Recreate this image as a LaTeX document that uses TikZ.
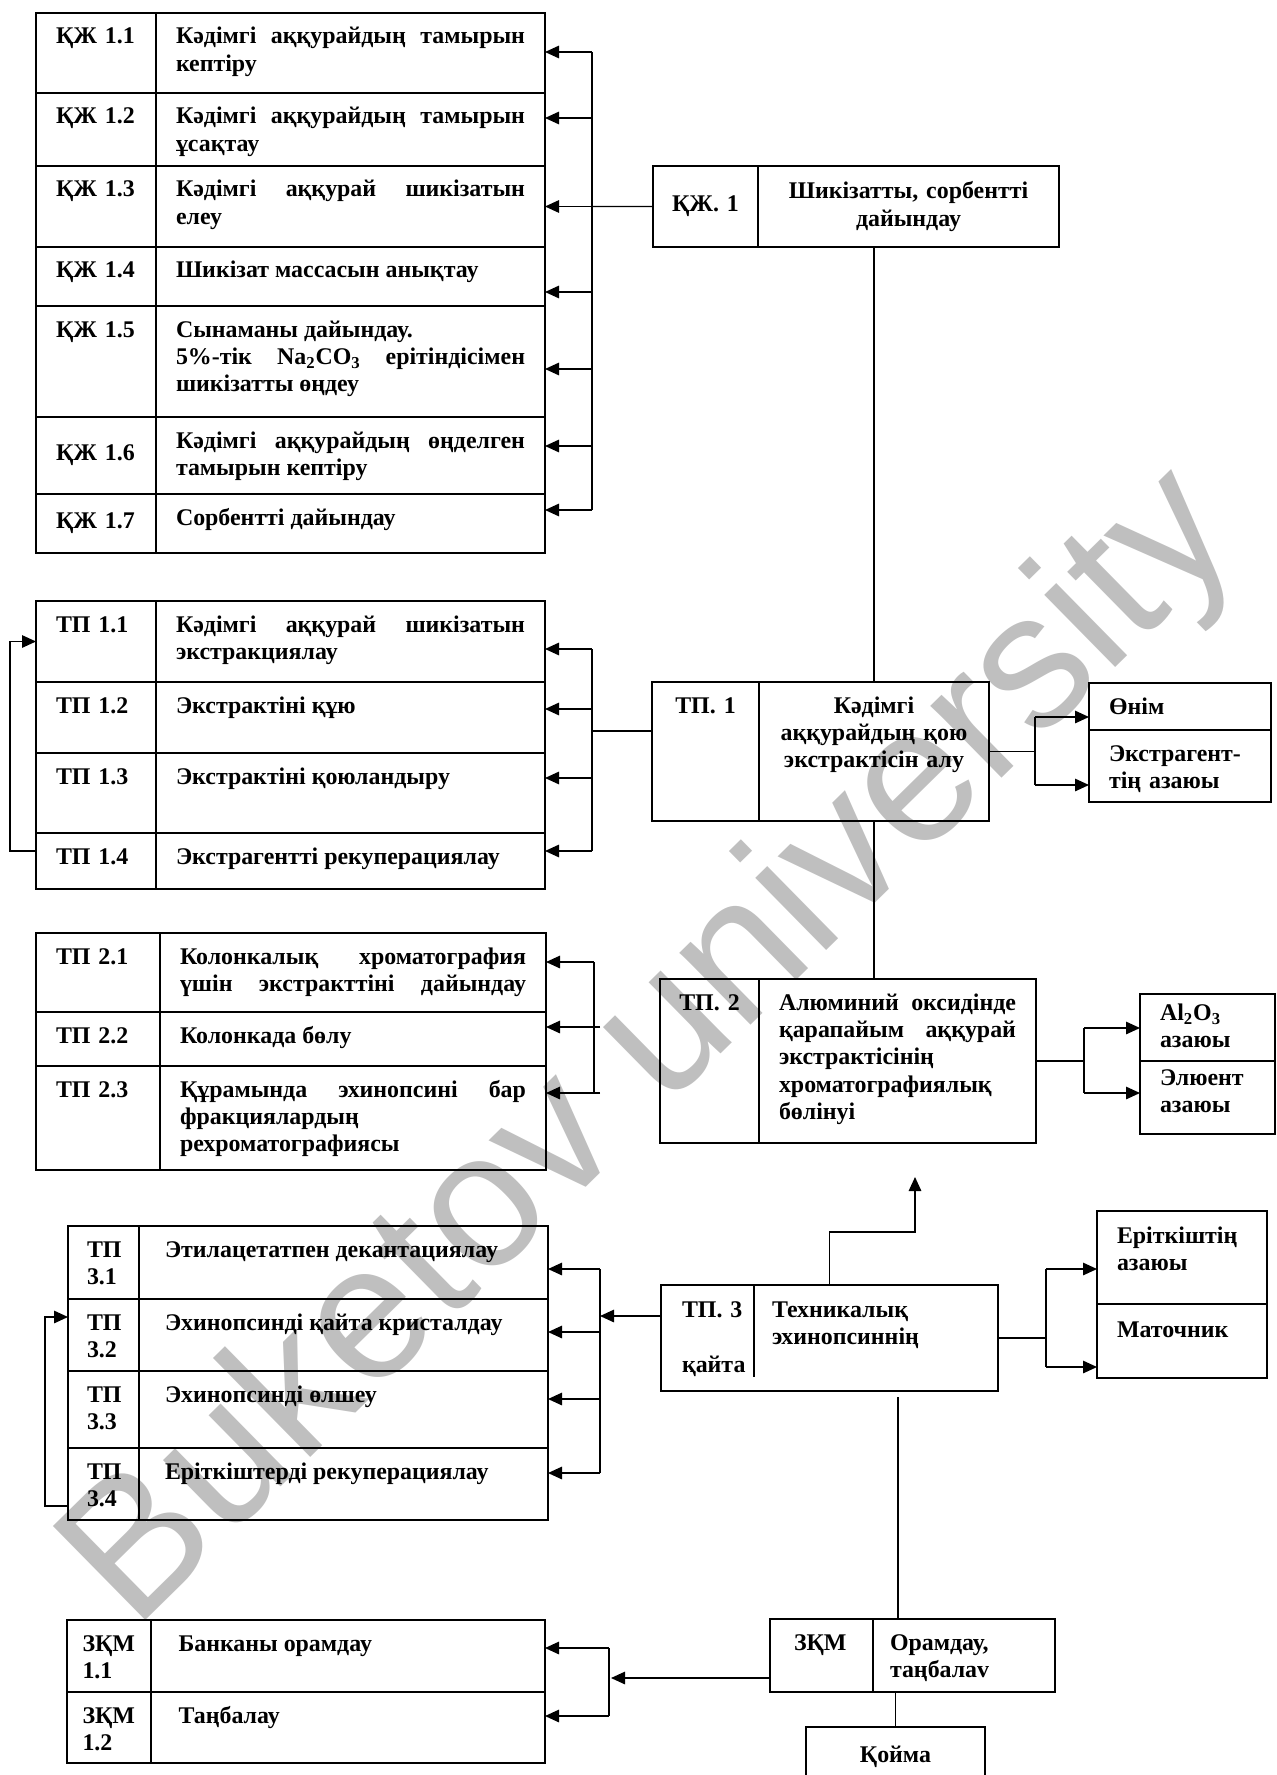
\documentclass[tikz,border=0pt]{standalone}
\usepackage{fontspec}
\setmainfont{Liberation Serif}
\newfontfamily\wmfont{Liberation Sans}
\usetikzlibrary{arrows.meta}
\hyphenpenalty=10000
\exhyphenpenalty=10000
\begin{document}
\begin{tikzpicture}[x=0.2mm, y=-0.2mm, thick,
    font=\bfseries\fontsize{13.6}{15.6}\selectfont,
    cell/.style={draw, rectangle, anchor=north west, inner xsep=4mm, inner ysep=0pt, outer sep=0pt},
    codecell/.style={cell, align=left, text width=16mm},
    textcell/.style={cell, align=justify, text width=69.8mm},
    hangtop/.style={text height=6.2mm, text depth=#1},
    arr/.style={-{Triangle[length=2.8mm, width=2.5mm]}},
    wm/.style={text=black!25, font=\wmfont\fontsize{109}{109}\selectfont, rotate=44.5}]
  \useasboundingbox (0,0) rectangle (1276,1775);
  \node[wm] (mark) at (654,1051) {Buketov university};

  \node[codecell, hangtop=9.8mm] (kc1) at (36,13) {ҚЖ 1.1};
  \node[textcell, hangtop=9.8mm] (k1) at (156,13) {Кәдімгі аққурайдың тамырын\linebreak кептіру};
  \node[codecell, hangtop=8.4mm] (kc2) at (36,93) {ҚЖ 1.2};
  \node[textcell, hangtop=8.4mm] (k2) at (156,93) {Кәдімгі аққурайдың тамырын\linebreak ұсақтау};
  \node[codecell, hangtop=10mm] (kc3) at (36,166) {ҚЖ 1.3};
  \node[textcell, hangtop=10mm] (k3) at (156,166) {Кәдімгі аққурай шикізатын\linebreak елеу};
  \node[codecell, hangtop=5.6mm] (kc4) at (36,247) {ҚЖ 1.4};
  \node[textcell, hangtop=5.6mm] (k4) at (156,247) {Шикізат массасын анықтау};
  \node[codecell, hangtop=16mm] (kc5) at (36,306) {ҚЖ 1.5};
  \node[textcell, hangtop=16mm] (k5) at (156,306) {Сынаманы дайындау.\\ 5\%-тік Na\textsubscript{2}CO\textsubscript{3} ерітіндісімен\linebreak шикізатты өңдеу};
  \node[codecell, minimum height=15.4mm] (kc6) at (36,417) {ҚЖ 1.6};
  \node[textcell, hangtop=9.2mm] (k6) at (156,417) {Кәдімгі аққурайдың өңделген\linebreak тамырын кептіру};
  \node[codecell, minimum height=11.8mm] (kc7) at (36,494) {ҚЖ 1.7};
  \node[textcell, hangtop=5.6mm] (k7) at (156,494) {Сорбентті дайындау};

  \node[cell, text width=17mm, inner xsep=2mm, align=center, minimum height=16.2mm] (Kc) at (653,166) {ҚЖ. 1};
  \node[cell, text width=52.2mm, align=center, minimum height=16.2mm] (K) at (758,166) {Шикізатты, сорбентті\\ дайындау};

  \node[codecell, hangtop=10mm] (ac1) at (36,601) {ТП 1.1};
  \node[textcell, hangtop=10mm] (a1) at (156,601) {Кәдімгі аққурай шикізатын\linebreak экстракциялау};
  \node[codecell, hangtop=8mm] (ac2) at (36,682) {ТП 1.2};
  \node[textcell, hangtop=8mm] (a2) at (156,682) {Экстрактіні құю};
  \node[codecell, hangtop=9.8mm] (ac3) at (36,753) {ТП 1.3};
  \node[textcell, hangtop=9.8mm] (a3) at (156,753) {Экстрактіні қоюландыру};
  \node[codecell, hangtop=5mm] (ac4) at (36,833) {ТП 1.4};
  \node[textcell, hangtop=5mm] (a4) at (156,833) {Экстрагентті рекуперациялау};

  \node[cell, text width=17.4mm, inner xsep=2mm, align=center, hangtop=21.6mm] (Ac) at (652,682) {ТП. 1};
  \node[cell, text width=43mm, inner xsep=1.5mm, align=center, hangtop=21.6mm] (A) at (759,682) {Кәдімгі\\ аққурайдың қою\\ экстрактісін алу};
  \node[cell, text width=28.4mm, align=left, hangtop=3.2mm] (o1) at (1089,683) {Өнім};
  \node[cell, text width=28.4mm, align=left, hangtop=8.2mm] (o2) at (1089,730) {Экстрагент-\\тің азаюы};

  \node[codecell, text width=16.8mm, hangtop=9.6mm] (bc1) at (36,933) {ТП 2.1};
  \node[textcell, text width=69.2mm, hangtop=9.6mm] (b1) at (160,933) {Колонкалық хроматография\linebreak үшін\hfill экстракттіні\hfill дайындау};
  \node[codecell, text width=16.8mm, hangtop=4.6mm] (bc2) at (36,1012) {ТП 2.2};
  \node[textcell, text width=69.2mm, hangtop=4.6mm] (b2) at (160,1012) {Колонкада бөлу};
  \node[codecell, text width=16.8mm, hangtop=14.6mm] (bc3) at (36,1066) {ТП 2.3};
  \node[textcell, text width=69.2mm, hangtop=14.6mm] (b3) at (160,1066) {Құрамында эхинопсині бар\linebreak фракциялардың\\ рехроматографиясы};

  \node[cell, text width=15.8mm, inner xsep=2mm, align=center, hangtop=26.6mm] (Bc) at (660,979) {ТП. 2};
  \node[cell, text width=47.4mm, align=justify, hangtop=26.6mm] (B) at (759,979) {Алюминий оксидінде\linebreak қарапайым аққурай\linebreak экстрактісінің\\ хроматографиялық\\ бөлінуі};
  \node[cell, text width=19mm, align=left, text height=5.3mm, text depth=8.1mm] (p1) at (1140,994) {Al\textsubscript{2}O\textsubscript{3}\\ азаюы};
  \node[cell, text width=19mm, align=left, text height=4.9mm, text depth=9.7mm] (p2) at (1140,1061) {Элюент\\ азаюы};

  \node[codecell, text width=6.6mm, inner xsep=3.8mm, hangtop=8.4mm] (cc1) at (68,1226) {ТП\\ 3.1};
  \node[textcell, text width=71.4mm, inner xsep=5.2mm, hangtop=8.4mm] (c1) at (139,1226) {Этилацетатпен декантациялау};
  \node[codecell, text width=6.6mm, inner xsep=3.8mm, hangtop=8.2mm] (cc2) at (68,1299) {ТП\\ 3.2};
  \node[textcell, text width=71.4mm, inner xsep=5.2mm, hangtop=8.2mm] (c2) at (139,1299) {Эхинопсинді қайта кристалдау};
  \node[codecell, text width=6.6mm, inner xsep=3.8mm, hangtop=9.2mm] (cc3) at (68,1371) {ТП\\ 3.3};
  \node[textcell, text width=71.4mm, inner xsep=5.2mm, hangtop=9.2mm] (c3) at (139,1371) {Эхинопсинді өлшеу};
  \node[codecell, text width=6.6mm, inner xsep=3.8mm, hangtop=8.2mm] (cc4) at (68,1448) {ТП\\ 3.4};
  \node[textcell, text width=71.4mm, inner xsep=5.2mm, hangtop=8.2mm] (c4) at (139,1448) {Еріткіштерді рекуперациялау};

  \node[cell, minimum width=67.4mm, minimum height=21.2mm] (C) at (661,1285) {};
  \node[cell, draw=none, text width=13mm, align=left, inner xsep=4.2mm, hangtop=0mm, text height=6.5mm] (Cc) at (C.north west) {ТП. 3\\[5.5mm]қайта};
  \node[cell, draw=none, text width=40mm, align=left, inner xsep=3.6mm, hangtop=0mm, text height=6.5mm] (Ct) at ([xshift=18.6mm]C.north west) {Техникалық\\ эхинопсиннің};
  \draw ([xshift=18.6mm]C.north west) -- ++(0,92);
  \node[cell, text width=26mm, align=left, hangtop=12.1mm, text height=6.5mm] (r1) at (1097,1211) {Еріткіштің\\ азаюы};
  \node[cell, text width=26mm, align=left, hangtop=8.1mm, text height=6.7mm] (r2) at (1097,1304) {Маточник};

  \node[codecell, text width=10.6mm, inner xsep=3.1mm, hangtop=8.2mm] (zc1) at (67,1620) {ЗҚМ\\ 1.1};
  \node[textcell, text width=67.8mm, inner xsep=5.5mm, hangtop=8.2mm] (z1) at (151,1620) {Банканы орамдау};
  \node[codecell, text width=10.6mm, inner xsep=3.1mm, hangtop=8mm] (zc2) at (67,1692) {ЗҚМ\\ 1.2};
  \node[textcell, text width=67.8mm, inner xsep=5.5mm, hangtop=8mm] (z2) at (151,1692) {Таңбалау};

  \node[cell, text width=11mm, inner xsep=4.8mm, align=left, hangtop=8.4mm] (Zc) at (770,1619) {ЗҚМ};
  \node[cell, text width=29.6mm, inner xsep=3.4mm, align=left, hangtop=8.4mm] (Z) at (873,1619) {Орамдау,\\ таңбалаv};
  \node[cell, text width=27.8mm, align=center, text height=7.1mm, text depth=6mm] (Q) at (806,1727) {Қойма};

  \foreach \i/\y in {1/52, 2/118, 3/206.5, 4/292, 5/369, 6/446, 7/510}
    \coordinate (kb\i) at (592,\y);
  \foreach \i in {1,...,7}
    \draw[arr] (kb\i) -- (kb\i -| k\i.east);
  \draw (kb1) -- (kb7);
  \draw (Kc.west) -- (kb3);
  \draw (A.north |- K.south) -- (A.north);
  \draw (A.south) -- (A.south |- B.north);

  \foreach \i/\y in {1/649, 2/709, 3/778, 4/851}
    \coordinate (ab\i) at (592,\y);
  \foreach \i in {1,...,4}
    \draw[arr] (ab\i) -- (ab\i -| a\i.east);
  \draw (ab1) -- (ab4);
  \coordinate (af) at (592,731);
  \draw (Ac.west |- af) -- (af);
  \draw[arr] ([yshift=2mm]ac4.west) -- ++(-26,0) |- (ac1.west);

  \coordinate (ob1) at (1035,717);
  \coordinate (ob2) at (1035,785);
  \draw (A.east) -- (A.east -| ob1);
  \draw (ob1) -- (ob2);
  \draw[arr] (ob1) -- (ob1 -| o1.west);
  \draw[arr] (ob2) -- (ob2 -| o2.west);

  \coordinate (bb1) at (594,962);
  \coordinate (bb2) at (600,1027);
  \coordinate (bb3) at (600,1093);
  \foreach \i in {1,2,3}
    \draw[arr] (bb\i) -- (bb\i -| b\i.east);
  \draw (bb1) -- (bb1 |- bb3);

  \coordinate (pb1) at (1084,1028);
  \coordinate (pb2) at (1084,1093);
  \draw (B.east) -- (B.east -| pb1);
  \draw (pb1) -- (pb2);
  \draw[arr] (pb1) -- (pb1 -| p1.west);
  \draw[arr] (pb2) -- (pb2 -| p2.west);

  \coordinate (up) at (915,1177);
  \draw[arr] (C.north) -- ++(0,-53) -| (up);

  \foreach \i/\y in {1/1269, 2/1332, 3/1399, 4/1473}
    \coordinate (cb\i) at (600,\y);
  \foreach \i in {1,...,4}
    \draw[arr] (cb\i) -- (cb\i -| c\i.east);
  \draw (cb1) -- (cb4);
  \coordinate (cf) at (600,1316);
  \draw[arr] (cf -| C.west) -- (cf);
  \draw[arr] ([yshift=-4.4mm]cc4.west) -- ++(-23,0) |- ([yshift=3.6mm]cc2.west);

  \coordinate (rb1) at (1046,1269);
  \coordinate (rb2) at (1046,1367);
  \draw (C.east) -- (C.east -| rb1);
  \draw (rb1) -- (rb2);
  \draw[arr] (rb1) -- (rb1 -| r1.west);
  \draw[arr] (rb2) -- (rb2 -| r2.west);

  \coordinate (zd) at (898,1397);
  \draw (zd) -- (zd |- Z.north);
  \coordinate (zb1) at (609,1648);
  \coordinate (zb2) at (609,1716);
  \draw[arr] (zb1) -- (zb1 -| z1.east);
  \draw[arr] (zb2) -- (zb2 -| z2.east);
  \draw (zb1) -- (zb2);
  \coordinate (zf) at (611,1678);
  \draw[arr] (zf -| Zc.west) -- (zf);
  \draw (Q.north |- Z.south) -- (Q.north);
\end{tikzpicture}
\end{document}
